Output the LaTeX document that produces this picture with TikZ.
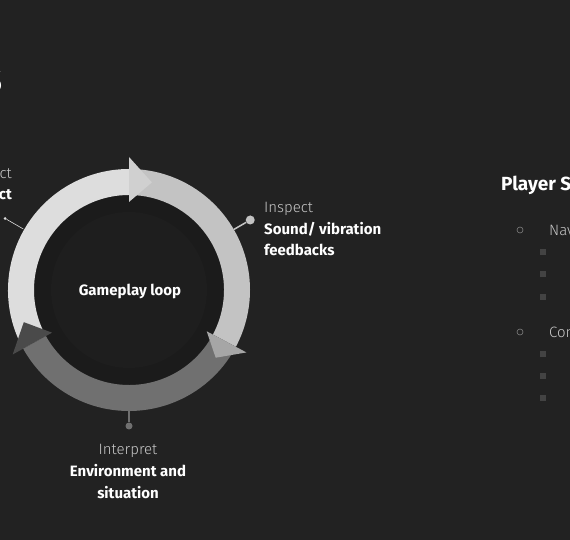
\documentclass[tikz,border=0pt]{standalone}
\usepackage{fontspec}
\setmainfont{Fira Sans}
\newfontfamily\lightfont{Fira Sans Light}

\definecolor{bgcol}{HTML}{222222}
\definecolor{diskcol}{HTML}{1B1B1B}
\definecolor{corecol}{HTML}{1E1E1E}
\definecolor{segacol}{HTML}{DDDDDD}
\definecolor{segbcol}{HTML}{C3C3C3}
\definecolor{segccol}{HTML}{707070}
\definecolor{tipacol}{HTML}{D0D0D0}
\definecolor{tipbcol}{HTML}{A6A6A6}
\definecolor{tipccol}{HTML}{4A4A4A}
\definecolor{softtext}{HTML}{C8C8C8}

\begin{document}
\begin{tikzpicture}[x=1pt,y=1pt,
  lbl/.style={text=softtext, font=\lightfont\fontsize{15}{18}\selectfont, inner sep=0pt},
  boldlbl/.style={text=white, font=\bfseries\fontsize{15}{18}\selectfont, inner sep=0pt},
  dot/.style={circle, fill=#1, inner sep=0pt},
  sqbullet/.style={fill=#1, inner sep=0pt, minimum size=6pt},
  circbullet/.style={circle, draw=#1, line width=0.6pt, inner sep=0pt, minimum size=6pt}]
\fill[bgcol] (0,0) rectangle (570,540);
\useasboundingbox (0,0) rectangle (570,540);

% title, cut off
\node[text=white, font=\bfseries\fontsize{33}{36}\selectfont, inner sep=0pt, anchor=base east] (title) at (3,447) {S};

% loop ring
\begin{scope}[shift={(129,250)}]
\fill[diskcol] (0,0) circle (95);
\fill[corecol] (0,0) circle (78);
\fill[segacol] (209:121) arc[start angle=209, end angle=90, radius=121] -- (90:95) arc[start angle=90, end angle=209, radius=95] -- cycle;
\fill[segbcol] (90:121) arc[start angle=90, end angle=-28, radius=121] -- (-28:95) arc[start angle=-28, end angle=90, radius=95] -- cycle;
\fill[segccol] (-28:121) arc[start angle=-28, end angle=-151, radius=121] -- (-151:95) arc[start angle=-151, end angle=-28, radius=95] -- cycle;
\fill[tipacol] (90:88) -- (90:133) -- (78:110) -- cycle;
\fill[tipbcol] (-28:88) -- (-28:133) -- (-38:110) -- cycle;
\fill[tipccol] (209:88) -- (209:133) -- (197:110) -- cycle;

\coordinate (inspectring) at (30:121);
\node[dot=segbcol, minimum size=9pt] (inspectdot) at (30:140) {};
\coordinate (actring) at (150:122);
\node[dot=segacol, minimum size=3pt] (actdot) at (150:143) {};
\coordinate (interpretring) at (-90:121);
\node[dot=segccol, minimum size=7pt] (interpretdot) at (-90:136) {};
\draw[segbcol, line width=1.5pt] (inspectring) -- (inspectdot);
\draw[segacol, line width=0.6pt] (actring) -- (actdot);
\draw[segccol, line width=1.5pt] (interpretring) -- (interpretdot);

\node[boldlbl, anchor=base] (loop) at (1,-6) {Gameplay loop};
\end{scope}

% labels round the ring
\node[lbl, anchor=base west] (inspect) at (264,327) {Inspect};
\node[boldlbl, anchor=base west] (inspecttop) at (264,305) {Sound/ vibration};
\node[boldlbl, anchor=base west] (inspectbot) at (264,284) {feedbacks};

\node[lbl, anchor=base] (interpret) at (128,85) {Interpret};
\node[boldlbl, anchor=base] (interprettop) at (128,63) {Environment and};
\node[boldlbl, anchor=base] (interpretbot) at (128,41) {situation};

\node[lbl, anchor=base east] (act) at (12,361) {ct};
\node[boldlbl, anchor=base east] (acttop) at (12,340) {ct};

% player list, cut off
\node[text=white, font=\bfseries\fontsize{19}{22}\selectfont, inner sep=0pt, anchor=base west] (player) at (501,349) {Player S};
\node[circbullet=gray] (navbullet) at (520,310) {};
\node[lbl, anchor=west] (nav) at (549,310) {Nav};
\node[circbullet=gray] (conbullet) at (520,208) {};
\node[lbl, anchor=west] (con) at (549,208) {Con};
\foreach \y in {288,266,243,186,164,142}
  \node[sqbullet=diskcol!60!gray] (sq\y) at (543,\y) {};
\end{tikzpicture}
\end{document}
